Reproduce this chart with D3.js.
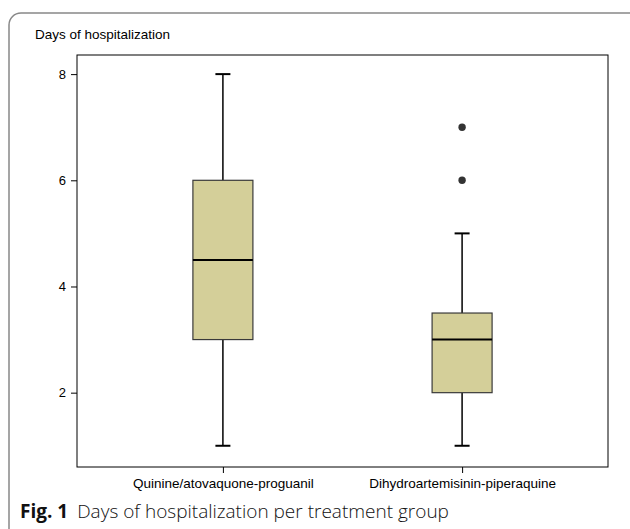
<!DOCTYPE html>
<html><head><meta charset="utf-8">
<script src="https://cdn.jsdelivr.net/npm/d3@7"></script>
<style>body{margin:0;background:#fff}svg{display:block}</style>
</head><body>
<script>
const categories = ["Quinine/atovaquone-proguanil", "Dihydroartemisinin-piperaquine"];
const whiskerLow = [1, 1];
const q1 = [3, 2];
const median = [4.5, 3];
const q3 = [6, 3.5];
const whiskerHigh = [8, 5];
const outliers = [[], [6, 7]];
const yTicks = [2, 4, 6, 8];
const yTitle = "Days of hospitalization";
const captionBold = "Fig. 1";
const captionText = "Days of hospitalization per treatment group";

const W = 630, H = 529;
const svg = d3.select("body").append("svg").attr("width", W).attr("height", H);

// outer rounded border
svg.append("rect").attr("x", 9).attr("y", 13).attr("width", 640).attr("height", 560)
  .attr("rx", 12).attr("fill", "none").attr("stroke", "#888").attr("stroke-width", 1.5);

const frame = {l: 77, r: 608, t: 55, b: 467};
const y = d3.scaleLinear().domain([0.6, 8.36]).range([frame.b, frame.t]);
const x = d3.scalePoint().domain(categories).range([frame.l, frame.r]).padding(0.61);

svg.append("rect").attr("x", frame.l).attr("y", frame.t)
  .attr("width", frame.r - frame.l).attr("height", frame.b - frame.t)
  .attr("fill", "none").attr("stroke", "#000").attr("stroke-width", 1);

const yAxis = svg.append("g").attr("transform", `translate(${frame.l},0)`)
  .call(d3.axisLeft(y).tickValues(yTicks).tickSize(6).tickPadding(5).tickFormat(d3.format("d")));
yAxis.select(".domain").remove();
yAxis.selectAll("text").attr("font-family", "Liberation Sans, Arial, sans-serif").attr("font-size", 13).attr("fill", "#000");
yAxis.selectAll("line").attr("stroke", "#000");

const xAxis = svg.append("g").attr("transform", `translate(0,${frame.b})`)
  .call(d3.axisBottom(x).tickSize(6).tickPadding(5));
xAxis.select(".domain").remove();
xAxis.selectAll("text").attr("font-family", "Liberation Sans, Arial, sans-serif").attr("font-size", 13.5).attr("fill", "#000");
xAxis.selectAll("line").attr("stroke", "#000");

svg.append("text").attr("x", 35).attr("y", 39).text(yTitle)
  .attr("font-family", "Liberation Sans, Arial, sans-serif").attr("font-size", 13.5).attr("fill", "#000");

const bw = 60, cap = 15;
categories.forEach((c, i) => {
  const cx = x(c);
  const g = svg.append("g");
  g.append("line").attr("x1", cx).attr("x2", cx).attr("y1", y(whiskerHigh[i])).attr("y2", y(q3[i]))
    .attr("stroke", "#000").attr("stroke-width", 1.5);
  g.append("line").attr("x1", cx).attr("x2", cx).attr("y1", y(q1[i])).attr("y2", y(whiskerLow[i]))
    .attr("stroke", "#000").attr("stroke-width", 1.5);
  [whiskerHigh[i], whiskerLow[i]].forEach(v => {
    g.append("line").attr("x1", cx - cap/2).attr("x2", cx + cap/2).attr("y1", y(v)).attr("y2", y(v))
      .attr("stroke", "#000").attr("stroke-width", 2);
  });
  g.append("rect").attr("x", cx - bw/2).attr("y", y(q3[i])).attr("width", bw)
    .attr("height", y(q1[i]) - y(q3[i])).attr("fill", "#d4cf99").attr("stroke", "#3a3a3a").attr("stroke-width", 1.2);
  g.append("line").attr("x1", cx - bw/2).attr("x2", cx + bw/2).attr("y1", y(median[i])).attr("y2", y(median[i]))
    .attr("stroke", "#000").attr("stroke-width", 2);
  outliers[i].forEach(v => {
    g.append("circle").attr("cx", cx).attr("cy", y(v)).attr("r", 3.7).attr("fill", "#333");
  });
});

const cap_t = svg.append("text").attr("x", 20).attr("y", 518)
  .attr("font-family", "Open Sans, Noto Sans, sans-serif").attr("font-size", 19).attr("fill", "#111");
cap_t.append("tspan").attr("font-weight", "bold").text(captionBold);
cap_t.append("tspan").attr("dx", 9).attr("font-weight", 300).text(captionText);
</script>
</body></html>
